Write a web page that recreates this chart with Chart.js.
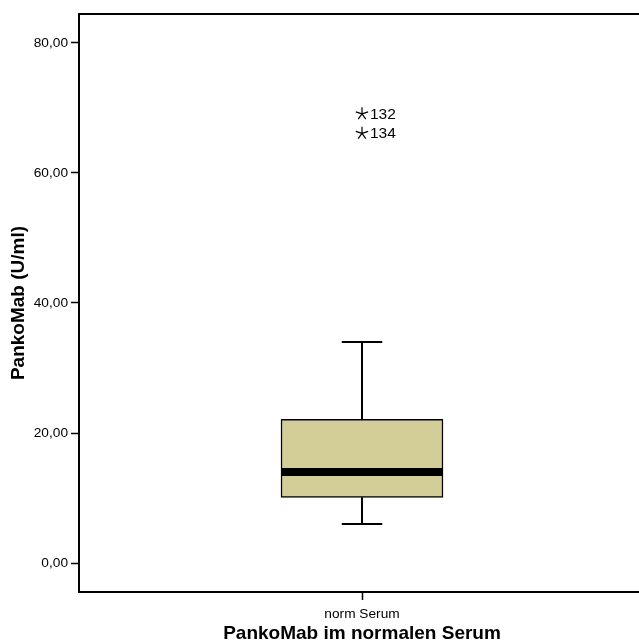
<!DOCTYPE html>
<html>
<head>
<meta charset="utf-8">
<script src="https://cdn.jsdelivr.net/npm/chart.js@4.4.1/dist/chart.umd.min.js"></script>
<style>
    html, body { margin: 0; padding: 0; background: #fff; overflow: hidden; }
</style>
</head>
<body>
<canvas id="chart-box" width="645" height="643"></canvas>
<script>
// dados do boxplot
const categorias = ['norm Serum'];
const q1 = [10.1];
const mediana = [14.0];
const q3 = [22.1];
const bigodeMin = [6.0];
const bigodeMax = [34.0];
const outlierValores = [69.1, 66.1];
const outlierNomes = ['132', '134'];
const yTicks = [0, 20, 40, 60, 80];

const fonte = '"Liberation Sans", Arial, sans-serif';

function formatar(valor) {
    return valor.toFixed(2).replace('.', ',');
}

// desenha bigodes, mediana e outliers usando as escalas do chart
const boxExtras = {
    id: 'boxExtras',
    afterDatasetsDraw(chart) {
        const ctx = chart.ctx;
        const x = chart.scales.x;
        const y = chart.scales.y;
        const area = chart.chartArea;
        ctx.save();
        ctx.strokeStyle = '#000';
        categorias.forEach(function (c, i) {
            let cx = x.getPixelForValue(i);
            let meta = chart.getDatasetMeta(0).data[i];
            let meia = meta.width / 2;
            let cap = meta.width / 8;
            // bigodes
            ctx.lineWidth = 2;
            ctx.beginPath();
            ctx.moveTo(cx, y.getPixelForValue(q3[i]));
            ctx.lineTo(cx, y.getPixelForValue(bigodeMax[i]));
            ctx.moveTo(cx - cap, y.getPixelForValue(bigodeMax[i]));
            ctx.lineTo(cx + cap, y.getPixelForValue(bigodeMax[i]));
            ctx.moveTo(cx, y.getPixelForValue(q1[i]));
            ctx.lineTo(cx, y.getPixelForValue(bigodeMin[i]));
            ctx.moveTo(cx - cap, y.getPixelForValue(bigodeMin[i]));
            ctx.lineTo(cx + cap, y.getPixelForValue(bigodeMin[i]));
            ctx.stroke();
            // mediana
            ctx.lineWidth = 8;
            ctx.beginPath();
            ctx.moveTo(cx - meia + 1, y.getPixelForValue(mediana[i]));
            ctx.lineTo(cx + meia - 1, y.getPixelForValue(mediana[i]));
            ctx.stroke();
            // outliers (estrela + numero do caso)
            ctx.lineWidth = 1.2;
            ctx.fillStyle = '#000';
            ctx.font = '15.5px ' + fonte;
            ctx.textBaseline = 'middle';
            outlierValores.forEach(function (v, k) {
                let py = y.getPixelForValue(v);
                ctx.beginPath();
                for (let a = 0; a < 5; a++) {
                    let ang = -Math.PI / 2 + a * 2 * Math.PI / 5;
                    ctx.moveTo(cx, py);
                    ctx.lineTo(cx + 6.5 * Math.cos(ang), py + 6.5 * Math.sin(ang));
                }
                ctx.stroke();
                ctx.fillText(outlierNomes[k], cx + 8, py + 0.5);
            });
        });
        // moldura superior e direita
        ctx.lineWidth = 2;
        ctx.beginPath();
        ctx.moveTo(area.left, area.top);
        ctx.lineTo(area.right, area.top);
        ctx.lineTo(area.right, area.bottom);
        ctx.stroke();
        ctx.restore();
    }
};

const ctx = document.getElementById('chart-box').getContext('2d');
const config = {
    type: 'bar',
    data: {
        labels: categorias,
        datasets: [{
            label: 'PankoMab',
            data: categorias.map(function (c, i) { return [q1[i], q3[i]]; }),
            backgroundColor: '#d3ce98',
            borderColor: '#000',
            borderWidth: 1.5,
            borderSkipped: false,
            barThickness: 162
        }]
    },
    options: {
        responsive: false,
        animation: false,
        layout: {
            padding: {top: 14, left: 0, right: 0, bottom: 0}
        },
        plugins: {
            legend: {display: false},
            tooltip: {enabled: false}
        },
        scales: {
            x: {
                afterFit: function (scale) { scale.height = 51; },
                grid: {
                    drawOnChartArea: false,
                    offset: false,
                    tickLength: 8,
                    tickColor: '#000',
                    tickWidth: 1.5
                },
                border: {color: '#000', width: 2},
                ticks: {
                    color: '#000',
                    padding: 6,
                    font: {family: fonte, size: 13.7}
                },
                title: {
                    display: true,
                    text: 'PankoMab im normalen Serum',
                    color: '#000',
                    padding: {top: 0, bottom: 0},
                    font: {family: fonte, size: 19, weight: 'bold', lineHeight: 1}
                }
            },
            y: {
                min: -4.46,
                max: 84.46,
                afterFit: function (scale) { scale.width = 79; },
                afterBuildTicks: function (scale) {
                    scale.ticks = yTicks.map(function (v) { return {value: v}; });
                },
                grid: {
                    drawOnChartArea: false,
                    tickLength: 8,
                    tickColor: '#000',
                    tickWidth: 1.5
                },
                border: {color: '#000', width: 2},
                ticks: {
                    color: '#000',
                    padding: 3,
                    font: {family: fonte, size: 13.7},
                    callback: function (value) { return formatar(value); }
                },
                title: {
                    display: true,
                    text: 'PankoMab (U/ml)',
                    color: '#000',
                    padding: {top: 9.5, bottom: 0},
                    font: {family: fonte, size: 19, weight: 'bold', lineHeight: 1}
                }
            }
        }
    },
    plugins: [boxExtras]
};
const chartBox = new Chart(ctx, config);
</script>
</body>
</html>
